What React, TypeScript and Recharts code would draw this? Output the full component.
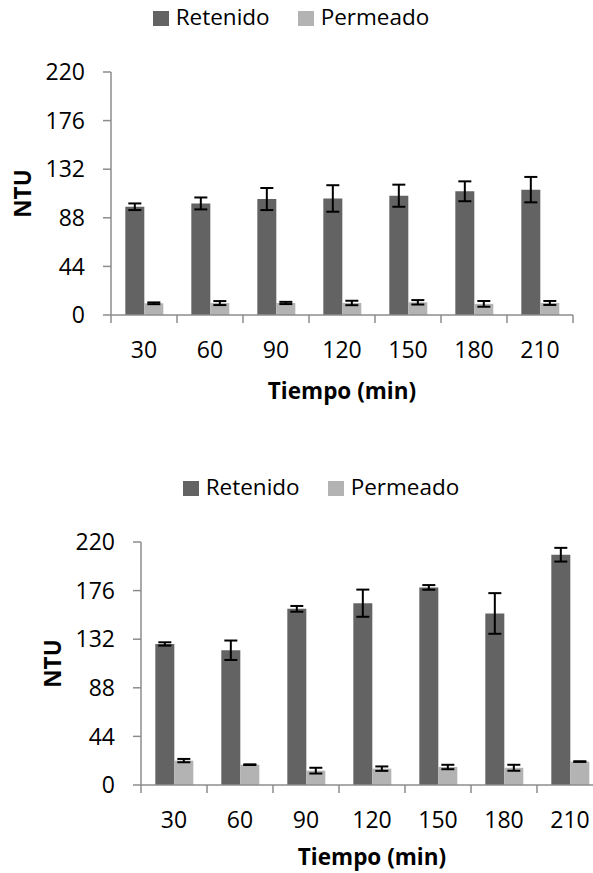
import { Bar, BarChart, ErrorBar, Label, Legend, XAxis, YAxis } from "recharts";

// Tiempo de muestreo (min)
const TIEMPOS = ["30", "60", "90", "120", "150", "180", "210"];

// Ensayo 1 (NTU, media y desviación)
const RETENIDO_1 = [98, 101, 105, 105.5, 108, 112, 113.5];
const RETENIDO_1_ERR = [3, 5.4, 10, 12, 10, 9, 11.5];
const PERMEADO_1 = [10.6, 10.8, 10.9, 10.9, 11.5, 10.1, 10.9];
const PERMEADO_1_ERR = [0.8, 1.8, 1, 2, 2, 2.6, 1.8];

// Ensayo 2
const RETENIDO_2 = [127.7, 122, 159.5, 164.6, 178.9, 155.3, 208.5];
const RETENIDO_2_ERR = [1.5, 8.8, 2.6, 12.3, 2.1, 18.4, 6.2];
const PERMEADO_2 = [22.1, 18.4, 13, 14.8, 16.3, 15.6, 21.2];
const PERMEADO_2_ERR = [1.5, 0.3, 2.6, 2, 2, 2.7, 0.3];

const NTU_TICKS = [0, 44, 88, 132, 176, 220];

const COLOR_RET = "#636363";
const COLOR_PER = "#b3b3b3";
const AXIS = "#8c8c8c";
const FONT = "'Open Sans', sans-serif";

const W = 593;
const H = 420;
const PLOT_BOTTOM = 315;
const TICK = 8;
const TICK_GAP = 19;

type Row = { t: string; ret: number; retErr: number; per: number; perErr: number };

const buildRows = (ret: number[], retErr: number[], per: number[], perErr: number[]): Row[] =>
    TIEMPOS.map((t, i) => ({ t, ret: ret[i], retErr: retErr[i], per: per[i], perErr: perErr[i] }));

const rows1 = buildRows(RETENIDO_1, RETENIDO_1_ERR, PERMEADO_1, PERMEADO_1_ERR);
const rows2 = buildRows(RETENIDO_2, RETENIDO_2_ERR, PERMEADO_2, PERMEADO_2_ERR);

// marcas del eje X entre categorías (estilo Excel) + etiqueta centrada
const TimeTick = (props: any) => {
    const { x, y, payload, index } = props;
    const half = payload.offset ?? 33;
    const axisY = y - TICK - TICK_GAP;
    const last = index === TIEMPOS.length - 1;
    return (
        <g>
            <line x1={x - half} x2={x - half} y1={axisY} y2={axisY + TICK} stroke={AXIS} strokeWidth={1.5} />
            {last && <line x1={x + half} x2={x + half} y1={axisY} y2={axisY + TICK} stroke={AXIS} strokeWidth={1.5} />}
            <text x={x} y={y} dy="0.71em" textAnchor="middle" fontSize={23} fill="#000" fontFamily={FONT}>
                {payload.value}
            </text>
        </g>
    );
};

const NtuTitle = ({ viewBox }: any) => {
    const cx = 22.5;
    const cy = viewBox.y + viewBox.height / 2;
    return (
        <text
            x={cx}
            y={cy}
            dy="0.357em"
            transform={`rotate(-90 ${cx} ${cy})`}
            textAnchor="middle"
            fontSize={22.5}
            fontWeight="bold"
            fill="#000"
            fontFamily={FONT}
        >
            NTU
        </text>
    );
};

const LegendRow = () => (
    <div style={{ display: "flex", justifyContent: "center", alignItems: "center", fontFamily: FONT, fontSize: 22.5, lineHeight: "22.5px", color: "#000" }}>
        {[
            { name: "Retenido", color: COLOR_RET },
            { name: "Permeado", color: COLOR_PER },
        ].map((item, i) => (
            <div key={item.name} style={{ display: "flex", alignItems: "center", marginLeft: i ? 28 : 0 }}>
                <span style={{ width: 16, height: 15, background: item.color, marginRight: 7, marginTop: 3 }} />
                <span>{item.name}</span>
            </div>
        ))}
    </div>
);

function NtuChart({ data, titleOffset }: { data: Row[]; titleOffset: number }) {
    return (
        <BarChart width={W} height={H} data={data} margin={{ top: 72, right: 20, left: 0, bottom: 0 }} barCategoryGap="21.7%" barGap={0}>
            <Legend verticalAlign="middle" align="center" wrapperStyle={{ top: 6, left: 0, width: 582 }} content={() => <LegendRow />} />
            <XAxis
                dataKey="t"
                height={H - PLOT_BOTTOM}
                axisLine={{ stroke: AXIS, strokeWidth: 1.5 }}
                tickLine={false}
                tickSize={TICK}
                tickMargin={TICK_GAP}
                tick={<TimeTick />}
                interval={0}
            >
                <Label value="Tiempo (min)" position="insideBottom" offset={titleOffset} fontSize={22.5} fontWeight="bold" fill="#000" fontFamily={FONT} />
            </XAxis>
            <YAxis
                width={111}
                domain={[0, 220]}
                ticks={NTU_TICKS}
                interval={0}
                axisLine={{ stroke: AXIS, strokeWidth: 1.5 }}
                tickLine={{ stroke: AXIS, strokeWidth: 1.5 }}
                tickSize={TICK}
                tickMargin={18}
                tick={{ fontSize: 23, fill: "#000", fontFamily: FONT }}
            >
                <Label content={<NtuTitle />} />
            </YAxis>
            <Bar dataKey="ret" name="Retenido" fill={COLOR_RET} isAnimationActive={false}>
                <ErrorBar dataKey="retErr" width={6.5} stroke="#000" strokeWidth={2} />
            </Bar>
            <Bar dataKey="per" name="Permeado" fill={COLOR_PER} isAnimationActive={false}>
                <ErrorBar dataKey="perErr" width={6.5} stroke="#000" strokeWidth={2} />
            </Bar>
        </BarChart>
    );
}

export default function App() {
    return (
        <div style={{ position: "absolute", left: 0, top: 0, width: 593, height: 873, overflow: "hidden", background: "#fff" }}>
            <div style={{ position: "absolute", left: 0, top: 0 }}>
                <NtuChart data={rows1} titleOffset={21} />
            </div>
            <div style={{ position: "absolute", left: 30, top: 470 }}>
                <NtuChart data={rows2} titleOffset={25} />
            </div>
        </div>
    );
}
